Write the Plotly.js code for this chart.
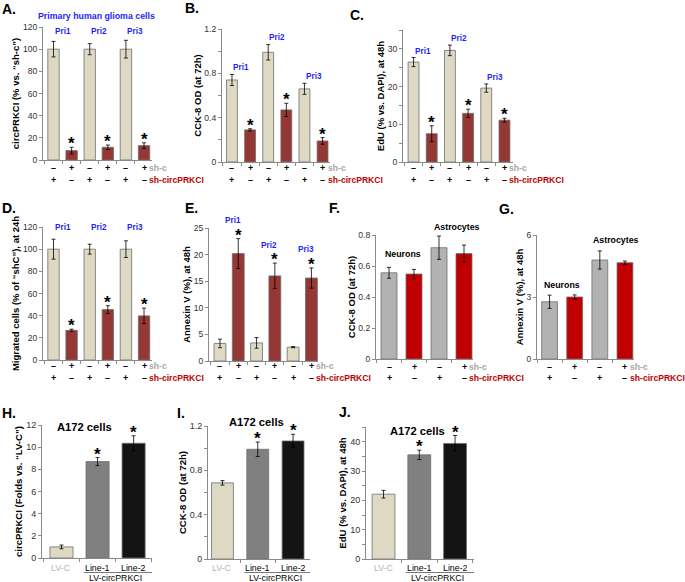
<!DOCTYPE html>
<html><head><meta charset="utf-8">
<script src="https://cdn.plot.ly/plotly-3.0.1.min.js"></script>
<style>html,body{margin:0;padding:0;background:#fff}#chart{width:685px;height:582px}</style>
</head><body><div id="chart"></div>
<script>
// ---------------- data ----------------
const shcRow = ['–','+','–','+','–','+'];
const shRow  = ['+','–','+','–','+','–'];
const priLabels = ['Pri1','Pri2','Pri3'];
const lvLabels = ['LV-C','Line-1','Line-2'];

const aVals=[100,8.5,100,11.5,100,13],      aErr=[7,3,5,2,8,2.5];
const bVals=[0.74,0.29,0.99,0.47,0.66,0.19], bErr=[0.05,0.01,0.07,0.06,0.05,0.03];
const cVals=[26.5,7.5,29.6,12.9,19.6,11.1], cErr=[1.2,2.1,1.4,1.1,1.1,0.5];
const dVals=[100,26.8,100,45.5,100,39.8],   dErr=[9,1,4.5,3.5,7.5,7];
const eVals=[3.3,20.2,3.4,16.0,2.6,15.6],   eErr=[0.8,2.8,1.0,2.4,0.1,1.9];
const fVals=[0.556,0.548,0.718,0.68],       fErr=[0.035,0.03,0.075,0.055];
const gVals=[2.77,3.0,4.79,4.66],           gErr=[0.32,0.1,0.44,0.08];
const hVals=[1.0,8.7,10.35],                hErr=[0.17,0.36,0.68];
const iVals=[0.687,0.99,1.065],             iErr=[0.02,0.065,0.06];
const jVals=[22.1,35.5,39.4],               jErr=[1.3,1.6,2.7];

const starsShA=[0,1,0,1,0,1];
const starsLv=[0,1,1];

const ticksA=[0,20,40,60,80,100,120];
const ticksB=[0,0.4,0.8,1.2], ticksBText=['0','0.4','0.8','1.2'];
const ticksC=[0,10,20,30];
const ticksE=[0,5,10,15,20,25];
const ticksF=[0,0.2,0.4,0.6,0.8], ticksFText=['0','0.2','0.4','0.6','0.8'];
const ticksG=[0,3,6];
const ticksH=[0,2,4,6,8,10,12];
const ticksJ=[0,10,20,30,40];

// ---------------- styling ----------------
const W=685, H=582;
const FONT='"Liberation Sans", Arial, Helvetica, sans-serif';
const AXC='#8a8a8a';
const BEIGE='#ddd9c3', DARKRED='#953735', GRAY='#b2b2b2', RED='#c00000', MIDGRAY='#808080', BLACK='#141414';
const BLUE='#1f1fff';
const pairCol=[BEIGE,DARKRED,BEIGE,DARKRED,BEIGE,DARKRED];
const fgCol=[GRAY,RED,GRAY,RED];
const lvCol=[BEIGE,MIDGRAY,BLACK];

const panels=[
 {L:'A',v:aVals,e:aErr,col:pairCol,box:[43,152,27,160],xr:[-0.58,5.44],yr:[0,120],tv:ticksA,tt:ticksA.map(String),minor:0,bw:0.63,
  title:'circPRKCI (% vs. “sh-c”)',stars:starsShA,letter:[0,9],rows:[168,180],kind:'sh',pri:'fixed',priY:31},
 {L:'B',v:bVals,e:bErr,col:pairCol,box:[222,330,29,162],xr:[-0.55,5.41],yr:[0,1.2],tv:ticksB,tt:ticksBText,minor:0.2,bw:0.6,
  title:'CCK-8 OD (at 72h)',stars:starsShA,letter:[183,8],rows:[168,180],kind:'sh',pri:'beige',priShift:7},
 {L:'C',v:cVals,e:cErr,col:pairCol,box:[403,513,30,162],xr:[-0.58,5.47],yr:[0,35],tv:ticksC,tt:ticksC.map(String),minor:5,bw:0.6,
  title:'EdU (% vs. DAPI), at 48h',stars:starsShA,letter:[348,15],rows:[168,180],kind:'sh',pri:'beige',priShift:6.5},
 {L:'D',v:dVals,e:dErr,col:pairCol,box:[43,152,227,360],xr:[-0.58,5.44],yr:[0,120],tv:ticksA,tt:ticksA.map(String),minor:0,bw:0.63,
  title:'Migrated cells (% of “shC”), at 24h',stars:starsShA,letter:[0,208],rows:[366,378],kind:'sh',pri:'fixed',priY:228},
 {L:'E',v:eVals,e:eErr,col:pairCol,box:[209,318,228,361],xr:[-0.6,5.36],yr:[0,25],tv:ticksE,tt:ticksE.map(String),minor:0,bw:0.65,
  title:'Annexin V (%), at 48h',stars:starsShA,letter:[183,208],rows:[366,378],kind:'sh',pri:'red',priShift:18},
 {L:'F',v:fVals,e:fErr,col:fgCol,box:[376,473,235,359],xr:[-0.52,3.36],yr:[0,0.8],tv:ticksF,tt:ticksFText,minor:0,bw:0.64,
  title:'CCK-8 OD (at 72h)',stars:null,letter:[327,208],rows:[367,378],kind:'sh',cells:[[0.56,254],[2.7,227]]},
 {L:'G',v:gVals,e:gErr,col:fgCol,box:[537,634,235,359],xr:[-0.5,3.36],yr:[0,6],tv:ticksG,tt:ticksG.map(String),minor:0,bw:0.63,
  title:'Annexin V (%), at 48h',stars:null,letter:[497,209],rows:[367,378],kind:'sh',cells:[[0.48,285],[2.65,240]]},
 {L:'H',v:hVals,e:hErr,col:lvCol,box:[42,152,425,558],xr:[-0.54,2.51],yr:[0,12],tv:ticksH,tt:ticksH.map(String),minor:0,bw:0.64,
  title:'circPRKCI (Folds vs. “LV-C”)',stars:starsLv,letter:[0,413],kind:'lv',a172:[0.65,427]},
 {L:'I',v:iVals,e:iErr,col:lvCol,box:[208,310,426,559],xr:[-0.41,2.48],yr:[0,1.2],tv:ticksB,tt:ticksBText,minor:0.2,bw:0.62,
  title:'CCK-8 OD (at 72h)',stars:starsLv,letter:[175,413],kind:'lv',a172:[0.97,422]},
 {L:'J',v:jVals,e:jErr,col:lvCol,box:[366,474,427,559],xr:[-0.49,2.53],yr:[0,45],tv:ticksJ,tt:ticksJ.map(String),minor:5,bw:0.64,
  title:'EdU (% vs. DAPI), at 48h',stars:starsLv,letter:[337,412],kind:'lv',a172:[0.94,431]}
];

const data=[], annotations=[], shapes=[];
const layout={width:W,height:H,margin:{l:0,r:0,t:0,b:0},paper_bgcolor:'#fff',plot_bgcolor:'rgba(0,0,0,0)',
  showlegend:false,font:{family:FONT,size:9,color:'#000'},annotations,shapes};

function py(p){return 1-p/H;}

panels.forEach((p,i)=>{
  const n=i===0?'':String(i+1);
  const xr='x'+n, yr='y'+n;
  const idx=p.v.map((_,k)=>k);
  data.push({type:'bar',x:idx,y:p.v,width:p.bw,xaxis:xr,yaxis:yr,
    marker:{color:p.col,line:{color:'#6e6e6e',width:0.8}},
    error_y:{type:'data',array:p.e,visible:true,color:'#000',thickness:0.8,width:2},
    hoverinfo:'skip'});
  const bounds=[]; for(let k=0;k<=p.v.length;k++) bounds.push(k-0.5);
  layout['xaxis'+n]={domain:[p.box[0]/W,p.box[1]/W],range:p.xr,anchor:yr,showline:true,linecolor:AXC,linewidth:1,
    ticks:'outside',ticklen:3,tickcolor:AXC,tickvals:bounds,showticklabels:false,showgrid:false,zeroline:false,fixedrange:true};
  const ya={domain:[py(p.box[3]),py(p.box[2])],range:p.yr,anchor:xr,showline:true,linecolor:AXC,linewidth:1,
    ticks:'outside',ticklen:3,tickcolor:AXC,tickvals:p.tv,ticktext:p.tt,tickfont:{size:8.6,color:'#333',family:FONT},
    showgrid:false,zeroline:false,fixedrange:true,
    title:{text:'<b>'+p.title+'</b>',font:{size:9.5,family:FONT,color:'#000'},standoff:1}};
  if(p.minor) ya.minor={dtick:p.minor,ticks:'outside',ticklen:3,tickcolor:AXC,showgrid:false};
  if(p.kind==='lv'){ ya.tickfont.size=9; ya.title.font.size=9.6; }
  layout['yaxis'+n]=ya;

  // panel letter
  annotations.push({xref:'paper',yref:'paper',x:p.letter[0]/W,y:py(p.letter[1]),xanchor:'left',yanchor:'middle',
    text:'<b>'+p.L+'.</b>',showarrow:false,font:{size:14,family:FONT,color:'#000'}});

  // stars
  if(p.stars){
    p.stars.forEach((s,k)=>{ if(!s) return;
      annotations.push({xref:xr,yref:yr,x:k,y:p.v[k]+p.e[k],yanchor:'bottom',xanchor:'center',yshift:-8,
        text:'<b>*</b>',showarrow:false,font:{size:17,family:FONT,color:'#000'}});
    });
  }

  if(p.kind==='sh'){
    const m=p.v.length;
    for(let k=0;k<m;k++){
      annotations.push({xref:xr,yref:'paper',x:k,y:py(p.rows[0]),yanchor:'middle',xanchor:'center',text:'<b>'+shcRow[k]+'</b>',
        showarrow:false,font:{size:9,family:FONT,color:'#000'}});
      annotations.push({xref:xr,yref:'paper',x:k,y:py(p.rows[1]),yanchor:'middle',xanchor:'center',text:'<b>'+shRow[k]+'</b>',
        showarrow:false,font:{size:9,family:FONT,color:'#000'}});
    }
    annotations.push({xref:xr,yref:'paper',x:m-1,xshift:3,y:py(p.rows[0]),yanchor:'middle',xanchor:'left',text:'<b>sh-c</b>',
      showarrow:false,font:{size:8.6,family:FONT,color:'#a6a6a6'}});
    annotations.push({xref:xr,yref:'paper',x:m-1,xshift:3,y:py(p.rows[1]),yanchor:'middle',xanchor:'left',text:'<b>sh-circPRKCI</b>',
      showarrow:false,font:{size:8.6,family:FONT,color:'#c00000'}});
  }
  // Pri labels
  if(p.pri){
    priLabels.forEach((t,j)=>{
      const a=2*j, b=2*j+1;
      let ann={xref:xr,text:'<b>'+t+'</b>',showarrow:false,font:{size:8.2,family:FONT,color:BLUE},xanchor:'center',yanchor:'middle'};
      if(p.pri==='fixed'){ ann.x=a+0.5; ann.yref='paper'; ann.y=py(p.priY); }
      else if(p.pri==='beige'){ ann.x=a+0.5; ann.yref=yr; ann.y=Math.max(p.v[a]+p.e[a],p.v[b]+p.e[b]); ann.yshift=p.priShift; }
      else { ann.x=a+0.7; ann.yref=yr; ann.y=p.v[b]+p.e[b]; ann.yshift=p.priShift; }
      annotations.push(ann);
    });
  }
  if(p.cells){
    ['Neurons','Astrocytes'].forEach((t,j)=>{
      annotations.push({xref:xr,yref:'paper',x:p.cells[j][0],y:py(p.cells[j][1]),text:'<b>'+t+'</b>',showarrow:false,
        xanchor:'center',yanchor:'middle',font:{size:8.8,family:FONT,color:'#000'}});
    });
  }
  if(p.kind==='lv'){
    annotations.push({xref:xr,yref:'paper',x:p.a172[0],y:py(p.a172[1]),text:'<b>A172 cells</b>',showarrow:false,
      xanchor:'center',yanchor:'middle',font:{size:11.2,family:FONT,color:'#000'}});
    lvLabels.forEach((t,k)=>{
      annotations.push({xref:xr,yref:'paper',x:k,y:py(568),text:t,showarrow:false,xanchor:'center',yanchor:'middle',
        font:{size:8.8,family:FONT,color:k===0?'#b5b5b5':'#000'}});
    });
    shapes.push({type:'line',xref:xr,yref:'paper',x0:0.62,x1:p.xr[1],y0:py(572.5),y1:py(572.5),line:{color:'#777',width:1}});
    annotations.push({xref:xr,yref:'paper',x:1.5,y:py(578),text:'LV-circPRKCI',showarrow:false,xanchor:'center',yanchor:'middle',
      font:{size:8.8,family:FONT,color:'#000'}});
  }
});

// figure-level label
annotations.push({xref:'paper',yref:'paper',x:96/W,y:py(16),text:'<b>Primary human glioma cells</b>',showarrow:false,
  xanchor:'center',yanchor:'middle',font:{size:8.8,family:FONT,color:BLUE}});

Plotly.newPlot('chart',data,layout,{staticPlot:true,displayModeBar:false});
</script></body></html>
